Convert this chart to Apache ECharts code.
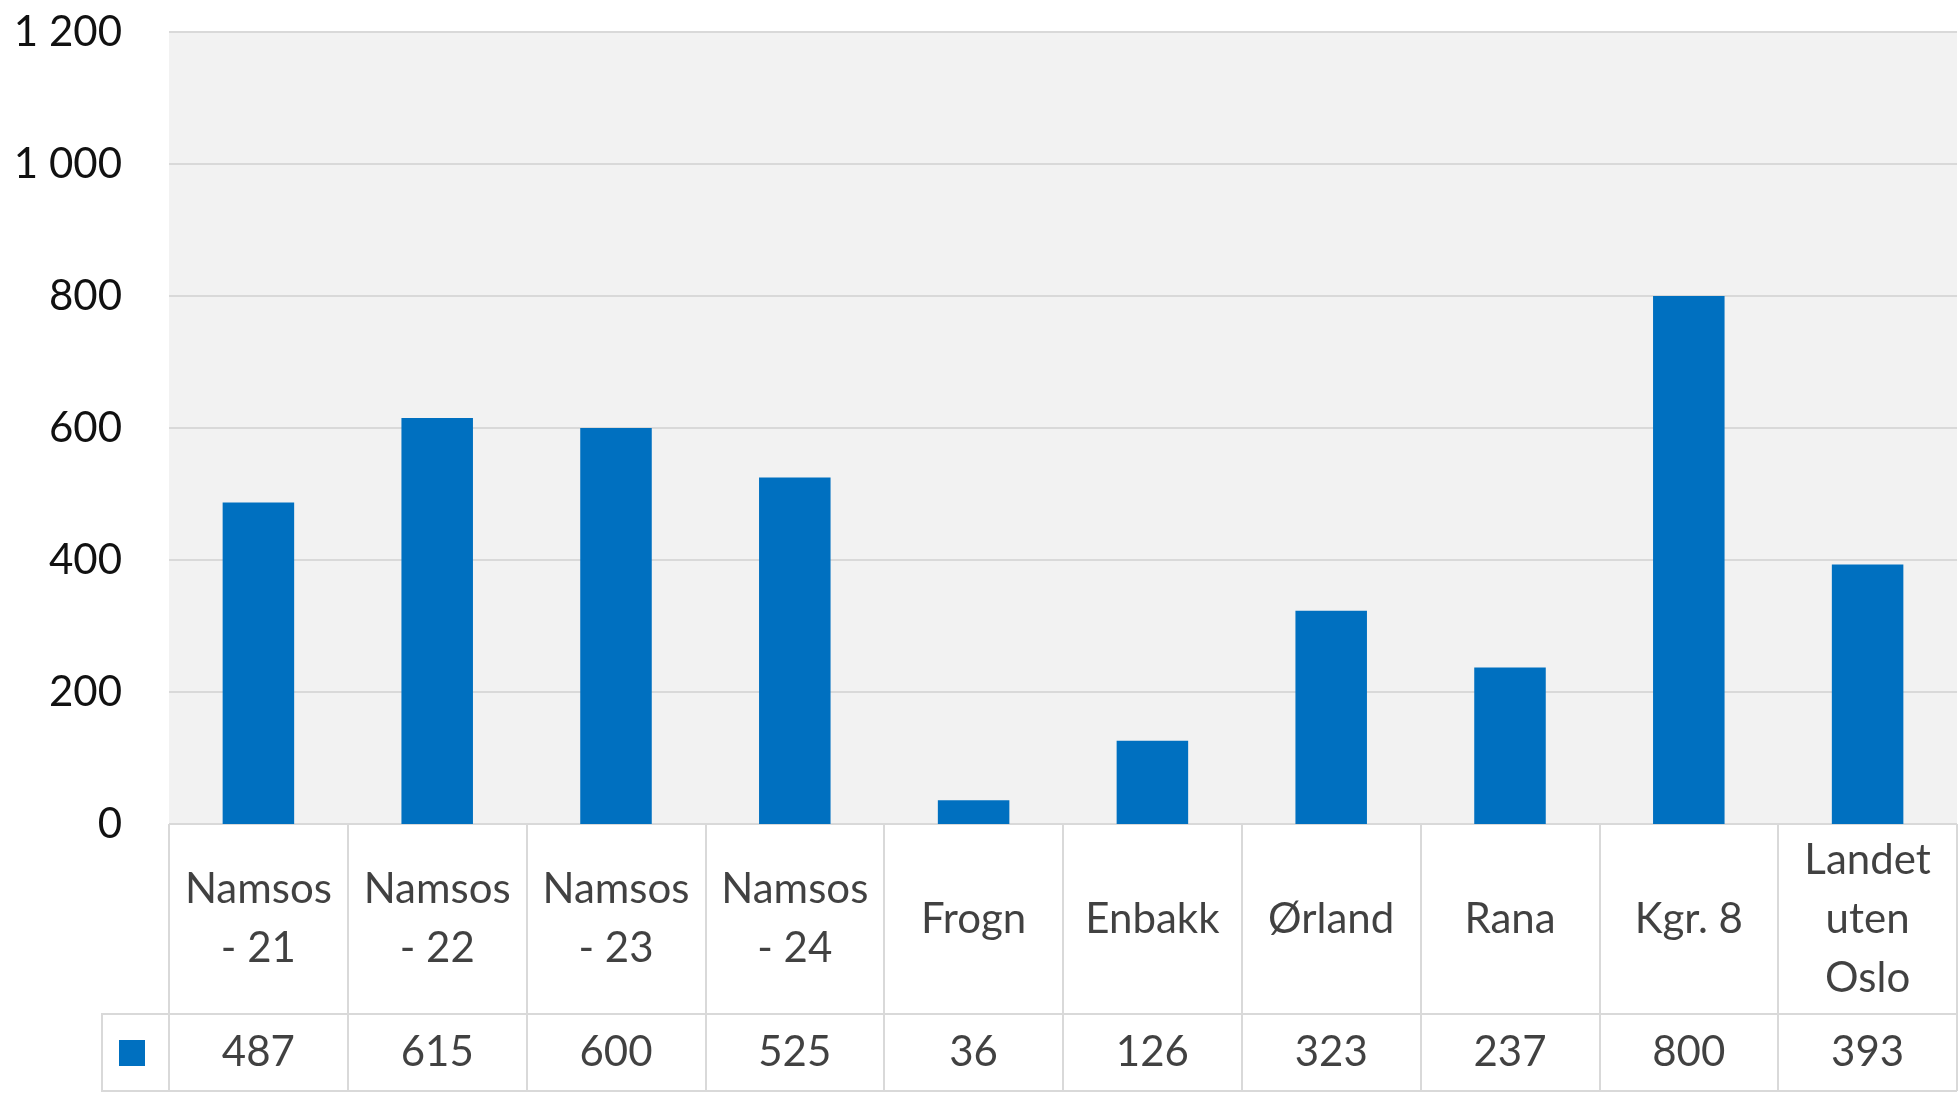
<!DOCTYPE html>
<html><head><meta charset="utf-8">
<script src="https://cdn.jsdelivr.net/npm/echarts@6/dist/echarts.min.js"></script>
<style>html,body{margin:0;padding:0;background:#fff}#c{width:1959px;height:1096px}</style>
</head><body><div id="c"></div>
<script>
const categories = ['Namsos - 21','Namsos - 22','Namsos - 23','Namsos - 24','Frogn','Enbakk','Ørland','Rana','Kgr. 8','Landet uten Oslo'];
const values = [487,615,600,525,36,126,323,237,800,393];
const yTicks = [0,200,400,600,800,1000,1200];

const FONT = 'Lato';
const FS = 42;
const TXT = '#111111';
const LINE = '#d9d9d9';
const GRID_L = 169, GRID_R = 2;
const PLOT_T = 32, PLOT_B = 824, NAME_B = 1014, VAL_B = 1091, LEG_L = 102;

const cv = document.createElement('canvas').getContext('2d');
cv.font = FS + 'px ' + FONT;
function wrap(text, maxW) {
  const words = text.split(' ');
  const lines = [];
  let cur = '';
  words.forEach(w => {
    const t = cur ? cur + ' ' + w : w;
    if (cur && cv.measureText(t).width > maxW) { lines.push(cur); cur = w; }
    else cur = t;
  });
  if (cur) lines.push(cur);
  return lines.join('\n');
}

const chart = echarts.init(document.getElementById('c'));
const split = {show:true, lineStyle:{color:LINE, width:2}};
const fmt = v => String(v).replace(/\B(?=(\d{3})+(?!\d))/g, ' ');

const option = {
  animation:false,
  textStyle:{fontFamily:FONT, color:TXT},
  legend:{show:true, left:119, top:1040, itemWidth:26, itemHeight:26, icon:'rect', formatter:()=>'', data:['Serie'], selectedMode:false, itemGap:0, padding:0},
  grid:[
    {left:GRID_L, right:GRID_R, top:PLOT_T, height:PLOT_B-PLOT_T, show:true, backgroundColor:'#f2f2f2', borderWidth:0},
    {left:GRID_L, right:GRID_R, top:PLOT_B, height:NAME_B-PLOT_B, show:false},
    {left:GRID_L, right:GRID_R, top:NAME_B, height:VAL_B-NAME_B, show:false}
  ],
  xAxis:[
    {gridIndex:0, type:'category', data:categories, axisLine:{show:false}, axisTick:{show:false}, axisLabel:{show:false}},
    {gridIndex:1, type:'category', data:categories, axisLine:{show:false}, axisTick:{show:false}, axisLabel:{show:false}, splitLine:split},
    {gridIndex:2, type:'category', data:categories, axisLine:{show:false}, axisTick:{show:false}, axisLabel:{show:false}, splitLine:split}
  ],
  yAxis:[
    {gridIndex:0, type:'value', min:yTicks[0], max:yTicks[yTicks.length-1], interval:yTicks[1]-yTicks[0],
     axisLine:{show:false}, axisTick:{show:false},
     axisLabel:{fontSize:FS, margin:47, color:TXT, fontFamily:FONT, formatter:fmt},
     splitLine:{show:true, lineStyle:{color:LINE, width:2}}},
    {gridIndex:1, type:'value', min:0, max:1, interval:1, axisLine:{show:false}, axisTick:{show:false}, axisLabel:{show:false}, splitLine:split},
    {gridIndex:2, type:'value', min:0, max:1, interval:1, axisLine:{show:false}, axisTick:{show:false}, axisLabel:{show:false}, splitLine:split}
  ],
  series:[
    {name:'Serie', type:'bar', xAxisIndex:0, yAxisIndex:0, data:values, barWidth:'40%', itemStyle:{color:'#0070c0'}},
    {type:'scatter', xAxisIndex:1, yAxisIndex:1, symbolSize:1, itemStyle:{color:'transparent'}, silent:true,
     data:categories.map((c,i)=>[i,0.5]),
     label:{show:true, position:'inside', formatter:p=>wrap(categories[p.dataIndex], 168), fontSize:FS, fontFamily:FONT, color:TXT,
            lineHeight:59, align:'center', verticalAlign:'middle'}},
    {type:'scatter', xAxisIndex:2, yAxisIndex:2, symbolSize:1, itemStyle:{color:'transparent'}, silent:true,
     data:values.map((v,i)=>[i,0.5]),
     label:{show:true, position:'inside', formatter:p=>String(values[p.dataIndex]), fontSize:FS, fontFamily:FONT, color:TXT,
            align:'center', verticalAlign:'middle'}}
  ],
  graphic:[
    {type:'polyline', shape:{points:[[GRID_L,NAME_B],[LEG_L,NAME_B],[LEG_L,VAL_B],[GRID_L,VAL_B]]}, style:{stroke:LINE, lineWidth:2, fill:null}}
  ]
};
chart.setOption(option);
</script></body></html>
